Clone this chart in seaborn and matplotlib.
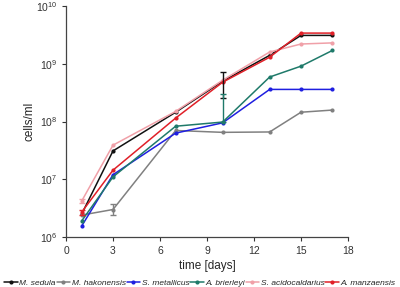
import numpy as np
import pandas as pd
import matplotlib
matplotlib.use("Agg")
import matplotlib.pyplot as plt
import seaborn as sns

days = [1, 3, 7, 10, 13, 15, 17]
species = ["M. sedula", "M. hakonensis", "S. metallicus", "A. brierleyi",
           "S. acidocaldarius", "A. manzaensis"]
m_sedula = [2.5e6, 3.1e7, 1.45e8, 5.0e8, 1.4e9, 3.1e9, 3.1e9]
m_hakonensis = [2.4e6, 3.0e6, 7.0e7, 6.5e7, 6.6e7, 1.45e8, 1.58e8]
s_metallicus = [1.55e6, 1.2e7, 6.3e7, 9.5e7, 3.6e8, 3.6e8, 3.6e8]
a_brierleyi = [1.9e6, 1.1e7, 8.3e7, 9.8e7, 5.9e8, 9.1e8, 1.7e9]
s_acidocaldarius = [4.2e6, 3.9e7, 1.5e8, 5.2e8, 1.6e9, 2.2e9, 2.3e9]
a_manzaensis = [2.7e6, 1.44e7, 1.15e8, 4.8e8, 1.3e9, 3.4e9, 3.4e9]
values = [m_sedula, m_hakonensis, s_metallicus, a_brierleyi, s_acidocaldarius, a_manzaensis]

# error bar bounds (lo, hi) per species at given day
err_sedula = {10: (2.6e8, 7.2e8)}
err_hakonensis = {3: (2.4e6, 3.8e6)}
err_brierleyi = {10: (9.8e7, 3.0e8)}
err_manzaensis = {1: (2.4e6, 2.9e6)}
err_acido = {1: (3.9e6, 4.5e6)}
errs = [err_sedula, err_hakonensis, {}, err_brierleyi, err_acido, err_manzaensis]

colors = ["#111111", "#808080", "#1f1fe0", "#1f7a6a", "#f0a0a8", "#e02028"]

rows = []
for sp, vals in zip(species, values):
    for d, v in zip(days, vals):
        rows.append({"day": d, "cells": v, "species": sp})
df = pd.DataFrame(rows)

sns.set_style("ticks")
plt.rcParams["font.family"] = ["Liberation Sans", "DejaVu Sans"]

fig = plt.figure(figsize=(4.0, 2.87), dpi=100)
ax = fig.add_axes([0.165, 0.174, 0.705, 0.805])

sns.lineplot(data=df, x="day", y="cells", hue="species", hue_order=species,
             palette=dict(zip(species, colors)), marker="o", markersize=3,
             markeredgewidth=0, linewidth=1.1, ax=ax, legend=True,
             errorbar=None)

for sp, e, c in zip(species, errs, colors):
    for d, (lo, hi) in e.items():
        ax.vlines(d, lo, hi, color=c, linewidth=1)
        ax.hlines([lo, hi], d - 0.2, d + 0.2, color=c, linewidth=1)

ax.set_yscale("log")
ax.set_ylim(1e6, 1e10)
ax.set_xlim(0, 18)
ax.set_xticks([0, 3, 6, 9, 12, 15, 18])
ax.set_yticks([1e6, 1e7, 1e8, 1e9, 1e10])
ax.yaxis.set_minor_locator(matplotlib.ticker.NullLocator())
ax.tick_params(labelsize=7.5, length=3, width=0.8, colors="#333333")
ax.set_xlabel("time [days]", fontsize=8.5, labelpad=3)
ax.set_ylabel("cells/ml", fontsize=8.5, labelpad=0)
sns.despine(ax=ax)
for s in ["left", "bottom"]:
    ax.spines[s].set_color("#444444")
    ax.spines[s].set_linewidth(0.9)

handles, labels = ax.get_legend_handles_labels()
ax.get_legend().remove()
fig.legend(handles, labels, loc="lower center", bbox_to_anchor=(0.5, -0.005),
           ncol=6, frameon=False, prop={"size": 6.0, "style": "italic"},
           handlelength=1.6, handletextpad=0.2, columnspacing=0.1,
           borderaxespad=0.05, borderpad=0.1)

fig.savefig("out.png", dpi=100)
